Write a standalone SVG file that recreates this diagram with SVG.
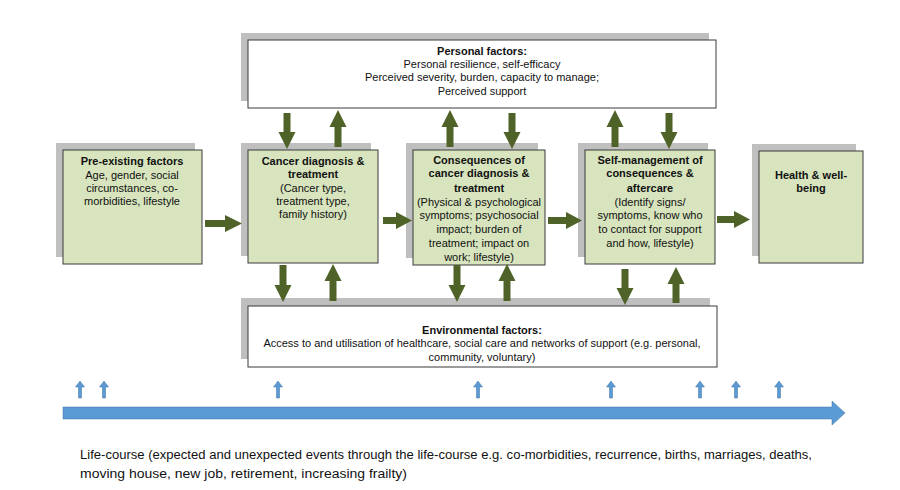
<svg xmlns="http://www.w3.org/2000/svg" width="900" height="490" viewBox="0 0 900 490">
<style>
.sh{fill:#bfbfbf;}
.bx{fill:#d7e4bd;stroke:#3a3a3a;stroke-width:1;}
.wb{fill:#ffffff;stroke:#3a3a3a;stroke-width:1;}
.t{font-family:"Liberation Sans",Arial,sans-serif;font-size:11px;fill:#111111;text-anchor:middle;}
.b{font-weight:bold;}
.ga{fill:#4f6228;}
.ba{fill:#5b9bd5;stroke:#41719c;stroke-width:0.5;}
.lc{font-family:"Liberation Sans",Arial,sans-serif;font-size:12.5px;fill:#111111;}
</style>
<rect width="900" height="490" fill="#ffffff"/>
<g id="personal">
<rect class="sh" x="241" y="33" width="468" height="68"/>
<rect class="wb" x="248" y="40" width="468" height="68"/>
<text class="t b" x="482" y="55">Personal factors:</text>
<text class="t" x="482" y="68">Personal resilience, self-efficacy</text>
<text class="t" x="482" y="81">Perceived severity, burden, capacity to manage;</text>
<text class="t" x="482" y="95">Perceived support</text>
</g>
<g id="preexisting">
<rect class="sh" x="56" y="143" width="139" height="114"/>
<rect class="bx" x="63" y="150" width="139" height="114"/>
<text class="t b" x="132" y="165">Pre-existing factors</text>
<text class="t" x="132" y="179">Age, gender, social</text>
<text class="t" x="132" y="192">circumstances, co-</text>
<text class="t" x="132" y="205">morbidities, lifestyle</text>
</g>
<g id="cancer">
<rect class="sh" x="241" y="143" width="130" height="113"/>
<rect class="bx" x="248" y="150" width="130" height="113"/>
<text class="t b" x="313" y="165">Cancer diagnosis &amp;</text>
<text class="t b" x="313" y="178">treatment</text>
<text class="t" x="313" y="192">(Cancer type,</text>
<text class="t" x="313" y="205">treatment type,</text>
<text class="t" x="313" y="218">family history)</text>
</g>
<g id="consequences">
<rect class="sh" x="406" y="143" width="132" height="115"/>
<rect class="bx" x="413" y="150" width="132" height="115"/>
<text class="t b" x="479" y="164">Consequences of</text>
<text class="t b" x="479" y="177">cancer diagnosis &amp;</text>
<text class="t b" x="479" y="192">treatment</text>
<text class="t" x="479" y="206">(Physical &amp; psychological</text>
<text class="t" x="479" y="219">symptoms; psychosocial</text>
<text class="t" x="479" y="233">impact; burden of</text>
<text class="t" x="479" y="247">treatment; impact on</text>
<text class="t" x="479" y="261">work; lifestyle)</text>
</g>
<g id="selfmanagement">
<rect class="sh" x="578" y="143" width="130" height="114"/>
<rect class="bx" x="585" y="150" width="130" height="114"/>
<text class="t b" x="650" y="164">Self-management of</text>
<text class="t b" x="650" y="177">consequences &amp;</text>
<text class="t b" x="650" y="192">aftercare</text>
<text class="t" x="650" y="206">(Identify signs/</text>
<text class="t" x="650" y="219">symptoms, know who</text>
<text class="t" x="650" y="233">to contact for support</text>
<text class="t" x="650" y="247">and how, lifestyle)</text>
</g>
<g id="health">
<rect class="sh" x="752" y="144" width="104" height="112"/>
<rect class="bx" x="759" y="151" width="104" height="112"/>
<text class="t b" x="811" y="179">Health &amp; well-</text>
<text class="t b" x="811" y="192">being</text>
</g>
<g id="environmental">
<rect class="sh" x="241" y="298" width="469" height="61"/>
<rect class="wb" x="248" y="306" width="469" height="61"/>
<text class="t b" x="482" y="334">Environmental factors:</text>
<text class="t" x="482" y="347">Access to and utilisation of healthcare, social care and networks of support (e.g. personal,</text>
<text class="t" x="482" y="361">community, voluntary)</text>
</g>
<g id="connectors">
<path class="ga" d="M205,220 H225 V215 L242,223.5 L225,232 V227 H205 Z"/>
<path class="ga" d="M383,217 H396 V212 L412,220.5 L396,229 V224 H383 Z"/>
<path class="ga" d="M548,217 H566 V212 L582,220.5 L566,229 V224 H548 Z"/>
<path class="ga" d="M717,216 H734 V211 L750,219.5 L734,228 V223 H717 Z"/>
<path class="ga" d="M283.5,113 H290.5 V132 H295.5 L287,149 L278.5,132 H283.5 Z"/>
<path class="ga" d="M508.5,113 H515.5 V132 H520.5 L512,149 L503.5,132 H508.5 Z"/>
<path class="ga" d="M665.5,113 H672.5 V132 H677.5 L669,149 L660.5,132 H665.5 Z"/>
<path class="ga" d="M334.5,147 H341.5 V127 H346.5 L338,110 L329.5,127 H334.5 Z"/>
<path class="ga" d="M446.5,147 H453.5 V127 H458.5 L450,110 L441.5,127 H446.5 Z"/>
<path class="ga" d="M611.5,147 H618.5 V127 H623.5 L615,110 L606.5,127 H611.5 Z"/>
<path class="ga" d="M279.5,265 H286.5 V285 H291.5 L283,302 L274.5,285 H279.5 Z"/>
<path class="ga" d="M453.5,265 H460.5 V285 H465.5 L457,302 L448.5,285 H453.5 Z"/>
<path class="ga" d="M621.5,269 H628.5 V288 H633.5 L625,305 L616.5,288 H621.5 Z"/>
<path class="ga" d="M329.5,301 H336.5 V281 H341.5 L333,264 L324.5,281 H329.5 Z"/>
<path class="ga" d="M503.5,301 H510.5 V281 H515.5 L507,264 L498.5,281 H503.5 Z"/>
<path class="ga" d="M672.5,303 H679.5 V284 H684.5 L676,267 L667.5,284 H672.5 Z"/>
</g>
<g id="timeline">
<path class="ba" d="M63,407 H832 V401 L845,413 L832,425 V419 H63 Z"/>
<path class="ba" d="M78.5,398 H81.5 V387 H84.5 L80,381 L75.5,387 H78.5 Z"/>
<path class="ba" d="M102.5,398 H105.5 V387 H108.5 L104,381 L99.5,387 H102.5 Z"/>
<path class="ba" d="M276.5,398 H279.5 V387 H282.5 L278,381 L273.5,387 H276.5 Z"/>
<path class="ba" d="M476.5,398 H479.5 V387 H482.5 L478,381 L473.5,387 H476.5 Z"/>
<path class="ba" d="M609.5,398 H612.5 V387 H615.5 L611,381 L606.5,387 H609.5 Z"/>
<path class="ba" d="M698.5,398 H701.5 V387 H704.5 L700,381 L695.5,387 H698.5 Z"/>
<path class="ba" d="M734.5,398 H737.5 V387 H740.5 L736,381 L731.5,387 H734.5 Z"/>
<path class="ba" d="M777.5,398 H780.5 V387 H783.5 L779,381 L774.5,387 H777.5 Z"/>
<text class="lc" x="80" y="459" textLength="732" lengthAdjust="spacingAndGlyphs">Life-course (expected and unexpected events through the life-course e.g. co-morbidities, recurrence, births, marriages, deaths,</text>
<text class="lc" x="80" y="478" textLength="327" lengthAdjust="spacingAndGlyphs">moving house, new job, retirement, increasing frailty)</text>
</g>
</svg>
